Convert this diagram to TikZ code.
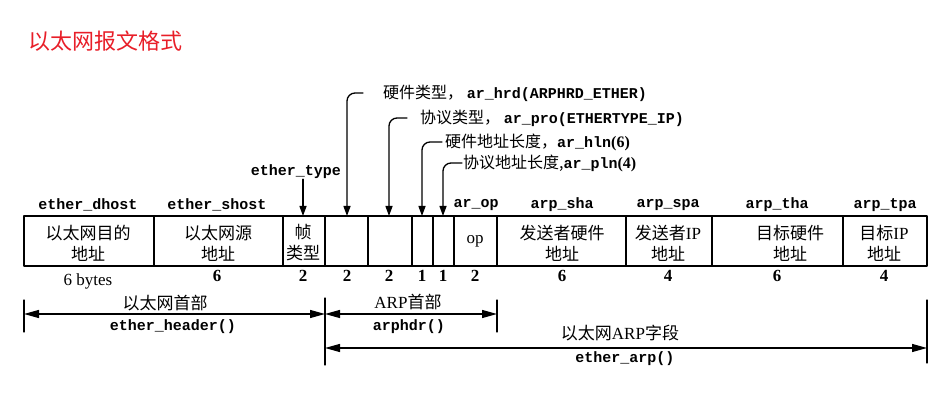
\documentclass[tikz,border=0pt]{standalone}
\usepackage{fontspec}
\setmainfont{Liberation Serif}
\setmonofont{Liberation Mono}
\newfontfamily\cjk{Noto Sans CJK SC}
\usetikzlibrary{arrows.meta}
\definecolor{titlered}{RGB}{232,30,40}

\begin{document}
\begin{tikzpicture}[x=1pt, y=-1pt, line join=round, line cap=round,
		>={Triangle[length=10pt,width=7pt]},
		fld/.style={font=\fontsize{15}{15}\selectfont\ttfamily\bfseries, inner sep=0pt},
		cell/.style={font=\fontsize{17}{21}\selectfont\cjk, align=center, inner sep=0pt},
		num/.style={font=\fontsize{17}{17}\selectfont\bfseries, inner sep=0pt},
		note/.style={font=\fontsize{16}{16}\selectfont\cjk, anchor=west, inner sep=0pt},
		dim/.style={line width=1.2pt, {Triangle[length=15pt,width=8pt]}-{Triangle[length=15pt,width=8pt]}}]
				\useasboundingbox (0,0) rectangle (950,419);
				\node[anchor=west, font=\fontsize{22}{22}\selectfont\cjk, text=titlered, inner sep=0pt] (title) at (28,41) {以太网报文格式};
				
				\path 
				(303,216) coordinate (ttype)
				(347,216) coordinate (thrd)
				(389,216) coordinate (tpro)
				(422,216) coordinate (thln)
				(443,216) coordinate (tpln)
				(24,314) coordinate (ehl)
				(325,314) coordinate (ehr)
				(497,314) coordinate (ahr)
				(325,348) coordinate (eal)
				(927,348) coordinate (ear)
				;
				\draw[line width=1.5pt] (24,216) rectangle (927,266);
				\foreach \x in {154,283,325,368,412,433,454,497,626,712,843}
					\draw[line width=1.5pt] (\x,216) -- (\x,266);
				
				\node[fld] (dhost) at (88,205) {ether\_dhost};
				\node[fld] (shost) at (217,205) {ether\_shost};
				\node[fld] (etype) at (296,172) {ether\_type};
				\node[fld] (arop) at (476,205) {ar\_op};
				\node[fld] (sha) at (562,205) {arp\_sha};
				\node[fld] (spa) at (668,205) {arp\_spa};
				\node[fld] (tha) at (777,205) {arp\_tha};
				\node[fld] (tpa) at (885,205) {arp\_tpa};
				
				\node[cell] (cdhost) at (88,243) {以太网目的\\地址};
				\node[cell] (cshost) at (218,243) {以太网源\\地址};
				\node[cell] (ctype) at (303,243) {帧\\类型};
				\node[cell, font=\fontsize{17}{21}\selectfont\rmfamily] (cop) at (475,241) {op};
				\node[cell] (csha) at (562,243) {发送者硬件\\地址};
				\node[cell] (cspa) at (668,243) {发送者{\rmfamily IP}\\地址};
				\node[cell] (ctha) at (790,243) {目标硬件\\地址};
				\node[cell] (ctpa) at (884,243) {目标{\rmfamily IP}\\地址};
				
				\node[font=\fontsize{17}{17}\selectfont, inner sep=0pt] (bytes) at (88,281) {6 bytes};
				\foreach \x/\n in {217/6,303/2,347/2,389/2,422/1,443/1,475/2,562/6,668/4,777/6,884/4}
					\node[num] at (\x,276) {\n};
				
				\node[note] (nhrd) at (383,93) {硬件类型， {\fontsize{15}{15}\selectfont\ttfamily\bfseries ar\_hrd(ARPHRD\_ETHER)}};
				\node[note] (npro) at (420,118) {协议类型， {\fontsize{15}{15}\selectfont\ttfamily\bfseries ar\_pro(ETHERTYPE\_IP)}};
				\node[note] (nhln) at (445,142) {硬件地址长度，{\fontsize{15}{15}\selectfont\ttfamily\bfseries ar\_hln}{\rmfamily\bfseries (6)}};
				\node[note] (npln) at (463,163) {协议地址长度,{\fontsize{15}{15}\selectfont\ttfamily\bfseries ar\_pln}{\rmfamily\bfseries (4)}};
				
				\draw[->, line width=1.3pt] (etype.south -| ttype) -- (ttype);
				\draw[->, line width=1.3pt, rounded corners=8pt] ([xshift=-20pt]nhrd.west) -| (thrd);
				\draw[->, line width=1.3pt, rounded corners=8pt] ([xshift=-13pt]npro.west) -| (tpro);
				\draw[->, line width=1.3pt, rounded corners=8pt] ([xshift=-3pt]nhln.west) -| (thln);
				\draw[->, line width=1.3pt, rounded corners=8pt] ([xshift=-1pt]npln.west) -| (tpln);
				
				\draw[line width=1.3pt] (24,300) -- (24,332) (325,298) -- (325,365) (497,300) -- (497,332) (927,300) -- (927,363);
				\draw[dim] (ehl) -- (ehr);
				\draw[dim] (ehr) -- (ahr);
				\draw[dim] (eal) -- (ear);
				
				\node[cell] (lhdr) at (165,303) {以太网首部};
				\node[fld] (ehdr) at (173,327) {ether\_header()};
				\node[cell] (larp) at (408,302) {{\rmfamily ARP}首部};
				\node[fld] (ahdr) at (409,327) {arphdr()};
				\node[cell] (lea) at (620,333) {以太网{\rmfamily ARP}字段};
				\node[fld] (earp) at (625,359) {ether\_arp()};
			\end{tikzpicture}
\end{document}
